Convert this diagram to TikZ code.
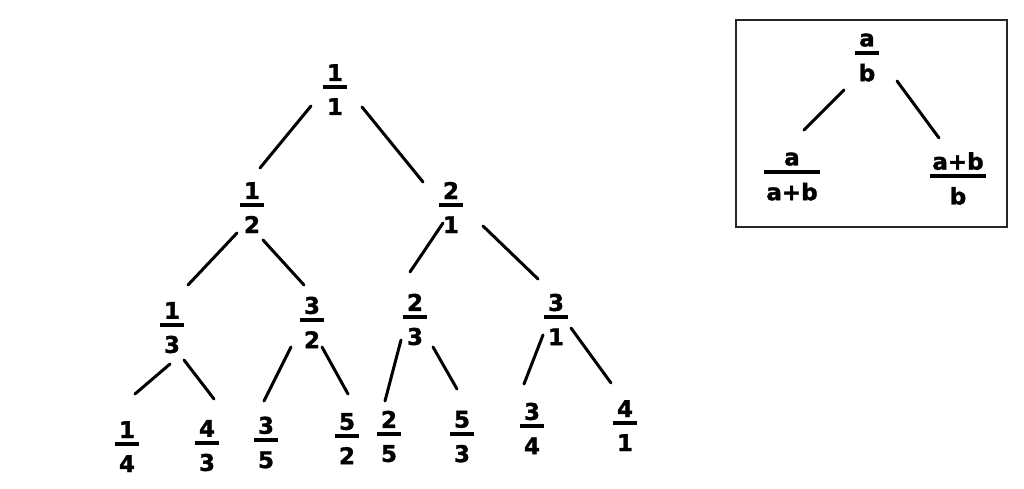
\documentclass[tikz,border=0pt]{standalone}
\usepackage{fontspec}
\newfontfamily\treefont{DejaVu Sans}[BoldFeatures={FakeBold=1.5}]
\usetikzlibrary{calc}
\newcommand*{\frc}[2]{%
  \setbox0=\hbox{#1}\setbox2=\hbox{#2}%
  \dimen0=\ifdim\wd0>\wd2 \wd0\else\wd2\fi
  \advance\dimen0 by 4pt
  \ifdim\dimen0<24pt \dimen0=24pt\fi
  \vbox{\kern5pt
    \hbox to\dimen0{\hss\vrule height17pt width0pt\box0\hss}\kern4pt
    \hrule height4pt\kern9pt
    \hbox to\dimen0{\hss\vrule height17pt width0pt\box2\hss}}}
\tikzstyle{frac}=[inner sep=0pt, outer sep=0pt]
\tikzstyle{branch}=[line width=3pt, line cap=round]

\begin{document}
\begin{tikzpicture}[x=1pt, y=-1pt]
    \treefont\bfseries\fontsize{23}{27}\selectfont
    \useasboundingbox (0,0) rectangle (1024,489);
    % the tree
    \node [frac] (r) at (335,87) {\frc{1}{1}};
    \node [frac] (n12) at (252,205) {\frc{1}{2}};
    \node [frac] (n21) at (451,205) {\frc{2}{1}};
    \node [frac] (n13) at (172,325) {\frc{1}{3}};
    \node [frac] (n32) at (312,320) {\frc{3}{2}};
    \node [frac] (n23) at (415,317) {\frc{2}{3}};
    \node [frac] (n31) at (556,317) {\frc{3}{1}};
    \node [frac] (n14) at (127,444) {\frc{1}{4}};
    \node [frac] (n43) at (207,443) {\frc{4}{3}};
    \node [frac] (n35) at (266,440) {\frc{3}{5}};
    \node [frac] (n52) at (347,436) {\frc{5}{2}};
    \node [frac] (n25) at (389,434) {\frc{2}{5}};
    \node [frac] (n53) at (462,434) {\frc{5}{3}};
    \node [frac] (n34) at (532,426) {\frc{3}{4}};
    \node [frac] (n41) at (625,423) {\frc{4}{1}};
    \draw [branch] ($(r)+(-24,19)$) -- ($(n12)+(8,-37)$);
    \draw [branch] ($(r)+(27,20)$) -- ($(n21)+(-28,-23)$);
    \draw [branch] ($(n12)+(-15,28)$) -- ($(n13)+(16,-40)$);
    \draw [branch] ($(n12)+(11,35)$) -- ($(n32)+(-8,-35)$);
    \draw [branch] ($(n21)+(-8,18)$) -- ($(n23)+(-5,-45)$);
    \draw [branch] ($(n21)+(32,21)$) -- ($(n31)+(-18,-38)$);
    \draw [branch] ($(n13)+(-2,39)$) -- ($(n14)+(8,-50)$);
    \draw [branch] ($(n13)+(12,35)$) -- ($(n43)+(7,-44)$);
    \draw [branch] ($(n32)+(-21,27)$) -- ($(n35)+(-2,-39)$);
    \draw [branch] ($(n32)+(10,27)$) -- ($(n52)+(1,-42)$);
    \draw [branch] ($(n23)+(-14,23)$) -- ($(n25)+(-4,-33)$);
    \draw [branch] ($(n23)+(18,30)$) -- ($(n53)+(-5,-45)$);
    \draw [branch] ($(n31)+(-13,18)$) -- ($(n34)+(-8,-42)$);
    \draw [branch] ($(n31)+(15,11)$) -- ($(n41)+(-14,-40)$);
    % the rule
    \draw [line width=1.5pt, black!85] (736,20) rectangle (1007,227);
    \node [frac] (ab) at (867,53) {\frc{a}{b}};
    \node [frac] (aab) at (792,172) {\frc{a}{a+b}};
    \node [frac] (abb) at (958,176) {\frc{a+b}{b}};
    \draw [branch] ($(ab)+(-23,37)$) -- ($(aab)+(12,-42)$);
    \draw [branch] ($(ab)+(30,28)$) -- ($(abb)+(-19,-38)$);
\end{tikzpicture}
\end{document}
